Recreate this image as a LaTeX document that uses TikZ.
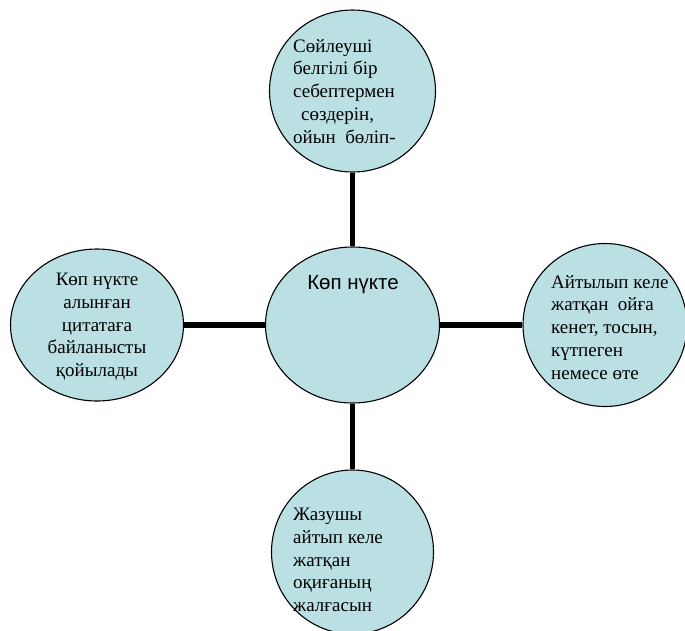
\documentclass[tikz,border=0pt]{standalone}
\usepackage{fontspec}
\setmainfont{Liberation Serif}
\newfontfamily\sansf{Liberation Sans}
\usetikzlibrary{shapes.geometric}
\definecolor{bubble}{RGB}{187,224,227}
\tikzset{
  bubblenode/.style={ellipse, draw=black, line width=1.1pt, fill=bubble, inner sep=0pt},
  linker/.style={line width=5.5pt, draw=black},
  txt/.style={inner sep=0pt, font=\fontsize{19}{22.7}\selectfont, text=black}
}
\begin{document}
\begin{tikzpicture}[x=1pt,y=-1pt]
\useasboundingbox (0,0) rectangle (685,630);
% ellipses
\node[bubblenode, minimum width=166pt, minimum height=162pt] (top) at (352.5,91) {};
\node[bubblenode, minimum width=174pt, minimum height=156pt] (mid) at (352.5,325) {};
\node[bubblenode, minimum width=173pt, minimum height=152pt] (lft) at (97,325) {};
\node[bubblenode, minimum width=164pt, minimum height=163pt] (rgt) at (605,325) {};
\node[bubblenode, minimum width=162pt, minimum height=164pt] (bot) at (352.5,552) {};
% connectors
\draw[linker] (top.south) -- (mid.north);
\draw[linker] (mid.south) -- (bot.north);
\draw[linker] (lft.east) -- (mid.west);
\draw[linker] (mid.east) -- (rgt.west);
% texts
\node[txt, anchor=north west, align=left] (ttop) at (293,39)
  {Сөйлеуші\\белгілі бір\\себептермен\\\hspace*{8pt}сөздерін,\\ойын\ \ бөліп-};
\node[txt, anchor=north west, align=left] (trgt) at (551,275)
  {Айтылып келе\\жатқан\ \ ойға\\кенет, тосын,\\күтпеген\\немесе өте};
\node[txt, anchor=north west, align=left] (tbot) at (293,508)
  {Жазушы\\айтып келе\\жатқан\\оқиғаның\\жалғасын};
\node[txt, anchor=north, align=center] (tlft) at (97,273)
  {Көп нүкте\\алынған\\цитатаға\\байланысты\\қойылады};
\node[inner sep=0pt, font=\sansf\fontsize{20.5}{22}\selectfont, text=black, anchor=north] (tmid) at (353,275) {Көп нүкте};
\end{tikzpicture}
\end{document}
